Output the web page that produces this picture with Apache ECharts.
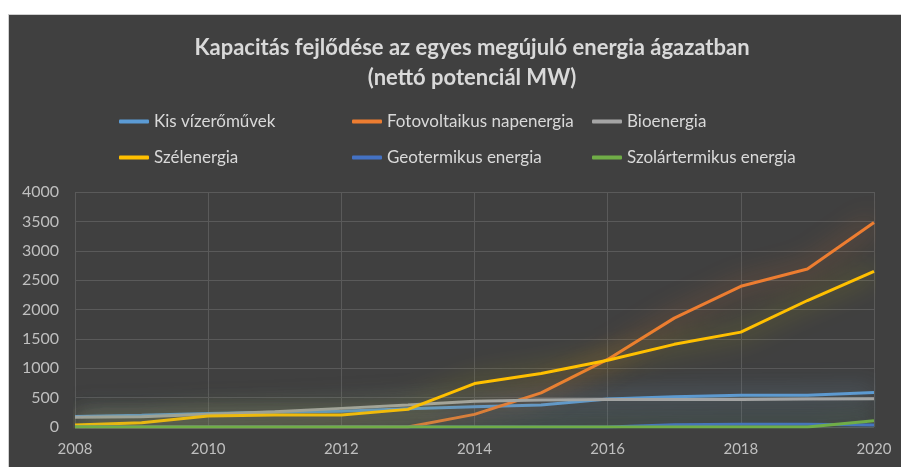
<!DOCTYPE html>
<html>
<head>
<meta charset="utf-8">
<script src="https://cdn.jsdelivr.net/npm/echarts@6/dist/echarts.min.js"></script>
<style>
body{margin:0;background:#fff;}
#chart{position:absolute;left:8px;top:14px;width:893px;height:453px;background:#404040;border-left:1px solid #d0d0d0;border-top:1px solid #d0d0d0;box-sizing:border-box;}
</style>
</head>
<body>
<div id="chart"></div>
<script>
var years=['2008','2009','2010','2011','2012','2013','2014','2015','2016','2017','2018','2019','2020'];
var kisViz=[180,200,230,250,270,310,344,373,475,514,540,542,588];
var fotovolt=[0,0,0,0,0,0,215,582,1150,1853,2395,2690,3480];
var bio=[164,175,215,260,317,373,440,460,470,470,470,478,480];
var szel=[34,73,186,203,203,300,740,910,1136,1407,1615,2153,2650];
var geoterm=[0,0,0,0,0,0,0,0,0,40,45,45,35];
var szolar=[0,0,0,0,0,0,0,0,0,0,0,0,107];

var txt='#d9d9d9';
var font='Lato';

function mkSeries(name,data,color,glow){
	return {
		name:name,
		type:'line',
		data:data,
		symbol:'none',
		lineStyle:{width:3,color:color,shadowColor:glow,shadowBlur:26},
		itemStyle:{color:color}
	};
}

function mkLegend(left,names){
	return {
		orient:'vertical',
		left:left,
		top:93,
		itemGap:19,
		itemWidth:30,
		itemHeight:4,
		icon:'roundRect',
		data:names,
		textStyle:{color:txt,fontFamily:font,fontSize:17}
	};
}

var myChart=echarts.init(document.getElementById('chart'));
myChart.setOption({
	animation:false,
	title:{
		text:'Kapacitás fejlődése az egyes megújuló energia ágazatban\n(nettó potenciál MW)',
		left:458,
		textAlign:'center',
		top:13,
		textStyle:{color:txt,fontFamily:font,fontSize:22,fontWeight:'bold',lineHeight:30}
	},
	legend:[
		mkLegend(105,['Kis vízerőművek','Szélenergia']),
		mkLegend(338,['Fotovoltaikus napenergia','Geotermikus energia']),
		mkLegend(578,['Bioenergia','Szolártermikus energia'])
	],
	grid:{left:66,right:27,top:177,bottom:40},
	xAxis:{
		type:'category',
		boundaryGap:false,
		data:years,
		axisLine:{show:false},
		axisTick:{show:false},
		axisLabel:{interval:1,color:'#bfbfbf',fontFamily:font,fontSize:15,margin:15},
		splitLine:{show:true,interval:1,lineStyle:{color:'#5a5a5a',width:1}}
	},
	yAxis:{
		type:'value',
		min:0,
		max:4000,
		interval:500,
		axisLine:{show:false},
		axisTick:{show:false},
		axisLabel:{color:'#bfbfbf',fontFamily:font,fontSize:16,margin:16,formatter:function(v){return String(v);}},
		splitLine:{lineStyle:{color:'#5a5a5a',width:1}}
	},
	series:[
		mkSeries('Kis vízerőművek',kisViz,'#5b9bd5','rgba(91,155,213,0.8)'),
		mkSeries('Fotovoltaikus napenergia',fotovolt,'#ed7d31','rgba(237,125,49,0.8)'),
		mkSeries('Bioenergia',bio,'#a5a5a5','rgba(165,165,165,0.65)'),
		mkSeries('Szélenergia',szel,'#ffc000','rgba(200,190,0,0.8)'),
		mkSeries('Geotermikus energia',geoterm,'#4472c4','rgba(68,114,196,0.8)'),
		mkSeries('Szolártermikus energia',szolar,'#70ad47','rgba(112,173,71,0.8)')
	]
});
</script>
</body>
</html>
